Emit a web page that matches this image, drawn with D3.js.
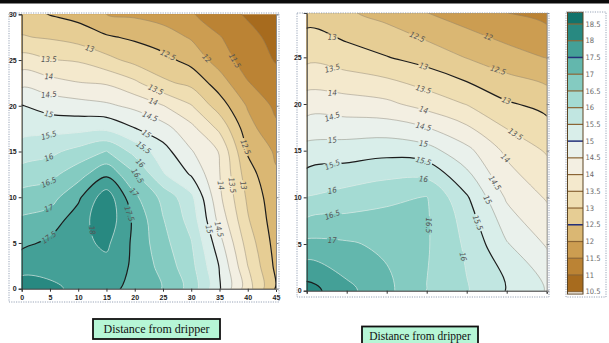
<!DOCTYPE html>
<html>
<head>
<meta charset="utf-8">
<script src="https://cdn.jsdelivr.net/npm/d3@7"></script>
<style>
  body { margin: 0; background: #fff; }
  svg { display: block; }
</style>
</head>
<body>
<svg id="chart" width="609" height="343"></svg>
<script>
// contour levels shared by both plots and the colour bar
const levels = [10.5, 11, 11.5, 12, 12.5, 13, 13.5, 14, 14.5, 15, 15.5, 16, 16.5, 17, 17.5, 18, 18.5];
const barMajor = [12.5, 15, 17.5];

// left plot: grid, rows from y = 0 (bottom) upwards
const leftX = [0, 5, 10, 15, 20, 25, 30, 35, 40, 45];
const leftY = [0, 2.5, 5, 7.5, 10, 12.5, 15, 17.5, 20, 22.5, 25, 27.5, 30];
const leftValues = [
  [18.25, 18.1, 17.89, 17.65, 17.35, 16.98, 16.31, 15.05, 13.72, 12.45],
  [17.81, 17.84, 17.85, 17.85, 17.4, 16.82, 16.16, 14.97, 13.5, 12.38],
  [17.38, 17.6, 17.85, 18.1, 17.38, 16.66, 16.03, 14.68, 13.28, 12.3],
  [17.08, 17.23, 17.76, 18.35, 17.38, 16.53, 15.81, 14.34, 13.05, 12.23],
  [16.68, 16.8, 17.4, 18.3, 17.1, 16.36, 15.62, 14.1, 12.91, 12.17],
  [16.22, 16.35, 16.8, 17.4, 16.55, 15.55, 14.95, 14.02, 12.72, 12.05],
  [15.74, 15.88, 16.17, 16.52, 15.84, 15.2, 14.54, 13.97, 12.45, 11.93],
  [15.33, 15.35, 15.36, 15.4, 15.02, 14.7, 14.15, 13.4, 12.2, 11.6],
  [15.02, 14.79, 14.7, 14.59, 14.38, 14.02, 13.53, 12.75, 11.95, 11.39],
  [14.37, 14.18, 14.02, 13.95, 13.6, 13.1, 12.87, 12.25, 11.53, 11.15],
  [13.72, 13.52, 13.45, 13.15, 12.85, 12.65, 12.33, 11.78, 11.25, 10.97],
  [13.03, 12.95, 12.8, 12.56, 12.42, 12.23, 11.95, 11.53, 11.15, 10.85],
  [12.75, 12.48, 12.33, 12.0, 11.92, 11.8, 11.55, 11.2, 10.94, 10.7]
];
const leftMajor = [12.5, 15, 17.5];
const leftXTicks = [0, 5, 10, 15, 20, 25, 30, 35, 40, 45];
const leftYTicks = [0, 5, 10, 15, 20, 25, 30];

// right plot
const rightX = [0, 5, 10, 15, 20, 25, 30];
const rightY = [0, 5, 10, 15, 20, 25, 30];
const rightValues = [
  [18.22, 17.64, 17.13, 16.49, 16.04, 15.48, 14.97],
  [17.13, 17.06, 16.9, 16.55, 15.91, 15.04, 14.45],
  [16.02, 16.21, 16.4, 16.52, 15.56, 14.43, 13.95],
  [15.19, 15.25, 15.34, 15.2, 14.64, 13.89, 13.45],
  [14.26, 14.21, 14.11, 13.8, 13.48, 13.06, 12.85],
  [13.37, 13.22, 13.02, 12.79, 12.48, 12.21, 11.98],
  [12.78, 12.55, 12.3, 11.97, 11.71, 11.47, 11.3]
];
const rightMajor = [13, 15.5, 18];
const rightXTicks = [0, 5, 10, 15, 20, 25, 30];
const rightYTicks = [0, 5, 10, 15, 20, 25];

const caption = 'Distance from dripper';

// where the inline contour labels sit: each guide picks up the listed levels where it crosses them
const leftGuides = [
  { from: [4.8, 3], to: [4.8, 27], levels: [13.5, 14, 14.5, 15, 15.5, 16, 16.5, 17, 17.5] },
  { from: [24.5, 24], to: [18.5, 6.5], levels: [13.5, 14, 14.5, 15, 15.5, 16, 16.5, 17, 17.5] },
  { from: [8, 26.5], to: [40, 24.8], levels: [13, 12.5, 12, 11.5] },
  { from: [33, 11.3], to: [42, 11.3], levels: [14, 13.5, 13] },
  { from: [31, 6.5], to: [38, 6.5], levels: [15, 14.5] },
  { from: [36, 15.5], to: [43, 15.5], levels: [12.5] },
  { from: [9, 6.4], to: [14.5, 6.4], levels: [18] }
];
const rightGuides = [
  { from: [3.2, 1], to: [3.2, 28.5], levels: [13, 13.5, 14, 14.5, 15, 15.5, 16, 16.5, 17] },
  { from: [14.6, 11], to: [14.6, 25.5], levels: [13, 13.5, 14, 14.5, 15, 15.5, 16] },
  { from: [10, 27.2], to: [28, 27.2], levels: [12.5, 12] },
  { from: [23.5, 25], to: [26.5, 15.5], levels: [12.5, 13, 13.5] },
  { from: [25.5, 15.5], to: [18.5, 1.5], levels: [14, 14.5, 15, 15.5, 16] },
  { from: [13.5, 7], to: [18, 7], levels: [16.5] }
];

const panels = [
  {
    id: 'left', xs: leftX, ys: leftY, values: leftValues, major: leftMajor,
    rect: { left: 21.7, right: 276, top: 14.3, bottom: 288.7 },
    xDomain: [0, 45], yDomain: [0, 30], xTicks: leftXTicks, yTicks: leftYTicks,
    xLabels: true, guides: leftGuides,
    frame: { x: 9, y: 13, w: 270, h: 289 }
  },
  {
    id: 'right', xs: rightX, ys: rightY, values: rightValues, major: rightMajor,
    rect: { left: 306.7, right: 546.7, top: 13, bottom: 290.7 },
    xDomain: [0, 30], yDomain: [0, 29.75], xTicks: rightXTicks, yTicks: rightYTicks,
    xLabels: false, guides: rightGuides,
    frame: { x: 297, y: 13, w: 252, h: 284 }
  }
];

const W = 609;
const H = 343;
const labelFont = '"Liberation Sans Narrow", "DejaVu Sans Condensed", sans-serif';
const axisFont = '"Liberation Sans", Arial, sans-serif';

const bandColor = (v) => d3.interpolateBrBG(0.5 + (v + 0.25 - 14.6) * 0.09);
const fmt = (v) => String(v);

const svg = d3.select('#chart');
const defs = svg.append('defs');

function intersect(p0, p1, a, b) {
  const r = [p1[0] - p0[0], p1[1] - p0[1]];
  const s = [b[0] - a[0], b[1] - a[1]];
  const den = r[0] * s[1] - r[1] * s[0];
  if (Math.abs(den) < 1e-9) return null;
  const qx = a[0] - p0[0];
  const qy = a[1] - p0[1];
  const t = (qx * s[1] - qy * s[0]) / den;
  const u = (qx * r[1] - qy * r[0]) / den;
  if (t < 0 || t > 1 || u < 0 || u > 1) return null;
  return { pt: [p0[0] + t * r[0], p0[1] + t * r[1]], u };
}

function findLabels(bands, guides, x, y) {
  const out = [];
  guides.forEach((g) => {
    const a = [x(g.from[0]), y(g.from[1])];
    const b = [x(g.to[0]), y(g.to[1])];
    g.levels.forEach((v) => {
      const band = bands.find((d) => Math.abs(d.value - v) < 1e-6);
      if (!band) return;
      let best = null;
      band.rings.forEach((ring) => {
        const n = ring.length;
        for (let i = 0; i < n; i++) {
          const hit = intersect(ring[i], ring[(i + 1) % n], a, b);
          if (hit && (!best || hit.u < best.u)) {
            const q0 = ring[(i - 1 + n) % n];
            const q1 = ring[(i + 2) % n];
            best = { ...hit, dir: [q1[0] - q0[0], q1[1] - q0[1]] };
          }
        }
      });
      if (!best) return;
      let angle = (Math.atan2(best.dir[1], best.dir[0]) * 180) / Math.PI;
      if (angle > 90) angle -= 180;
      if (angle < -90) angle += 180;
      const text = fmt(v);
      out.push({ x: best.pt[0], y: best.pt[1], angle, text, w: text.length * 3.8 + 3 });
    });
  });
  return out;
}

function styleAxis(g, color, textColor) {
  g.attr('font-family', axisFont).attr('font-size', 7).attr('font-weight', 'bold');
  g.select('.domain').attr('stroke', color);
  g.selectAll('.tick line').attr('stroke', color);
  g.selectAll('.tick text').attr('fill', textColor);
}

function drawPanel(p) {
  const x = d3.scaleLinear().domain(p.xDomain).range([p.rect.left, p.rect.right]);
  const y = d3.scaleLinear().domain(p.yDomain).range([p.rect.bottom, p.rect.top]);
  const nx = p.xs.length;
  const ny = p.ys.length;
  const stepX = p.xs[1] - p.xs[0];
  const stepY = p.ys[1] - p.ys[0];

  const contours = d3.contours().size([nx, ny]).thresholds(levels)(p.values.flat());

  // d3.contours puts sample i at i + 0.5 in its own grid units
  const toPx = ([gx, gy]) => [x(p.xs[0] + (gx - 0.5) * stepX), y(p.ys[0] + (gy - 0.5) * stepY)];
  const bands = contours.map((c) => ({
    value: c.value,
    rings: c.coordinates.flat().map((r) => r.slice(0, -1).map(toPx))
  }));
  const smooth = d3.line().curve(d3.curveCatmullRomClosed.alpha(0.5));
  const pathOf = (d) => d.rings.map((r) => smooth(r)).join('');

  defs.append('clipPath').attr('id', `clip-${p.id}`)
    .append('rect')
    .attr('x', p.rect.left).attr('y', p.rect.top)
    .attr('width', p.rect.right - p.rect.left).attr('height', p.rect.bottom - p.rect.top);

  const labels = findLabels(bands, p.guides, x, y);

  // cut the contour lines where a label sits
  const mask = defs.append('mask').attr('id', `mask-${p.id}`)
    .attr('maskUnits', 'userSpaceOnUse')
    .attr('x', 0).attr('y', 0).attr('width', W).attr('height', H);
  mask.append('rect').attr('width', W).attr('height', H).attr('fill', 'white');
  mask.selectAll('rect.gap')
    .data(labels)
    .enter()
    .append('rect')
    .attr('class', 'gap')
    .attr('x', (d) => -d.w / 2).attr('y', -3.5)
    .attr('width', (d) => d.w).attr('height', 7)
    .attr('transform', (d) => `translate(${d.x},${d.y}) rotate(${d.angle})`)
    .attr('fill', 'black');

  const plot = svg.append('g').attr('class', `plot plot-${p.id}`).attr('clip-path', `url(#clip-${p.id})`);

  plot.append('g').attr('class', 'bands')
    .selectAll('path')
    .data(bands)
    .enter()
    .append('path')
    .attr('d', pathOf)
    .attr('fill-rule', 'evenodd')
    .attr('fill', (d) => bandColor(d.value))
    .attr('stroke', (d) => bandColor(d.value))
    .attr('stroke-width', 0.3);

  const isMajor = (v) => p.major.some((m) => Math.abs(m - v) < 1e-6);
  plot.append('g').attr('class', 'lines').attr('mask', `url(#mask-${p.id})`)
    .selectAll('path')
    .data(bands.filter((d) => d.value > levels[0]))
    .enter()
    .append('path')
    .attr('d', pathOf)
    .attr('fill', 'none')
    .attr('stroke', (d) => {
      if (isMajor(d.value)) return '#1c1c1c';
      return d.value > 15 ? 'rgba(228,238,234,0.85)' : 'rgba(125,115,100,0.5)';
    })
    .attr('stroke-width', (d) => (isMajor(d.value) ? 1.2 : 0.8));

  plot.append('g').attr('class', 'labels')
    .selectAll('text')
    .data(labels)
    .enter()
    .append('text')
    .attr('transform', (d) => `translate(${d.x},${d.y}) rotate(${d.angle})`)
    .attr('text-anchor', 'middle')
    .attr('dy', '0.35em')
    .attr('font-family', labelFont)
    .attr('font-style', 'italic')
    .attr('font-size', 7.8)
    .attr('fill', '#555')
    .text((d) => d.text);

  // axes
  const left = svg.append('g').attr('transform', `translate(${p.rect.left},0)`)
    .call(d3.axisLeft(y).tickValues(p.yTicks).tickSize(3).tickPadding(2).tickFormat(d3.format('d')));
  styleAxis(left, '#333', '#222');

  const bottom = svg.append('g').attr('transform', `translate(0,${p.rect.bottom})`)
    .call(d3.axisBottom(x).tickValues(p.xTicks).tickSize(3).tickPadding(3)
      .tickFormat(p.xLabels ? d3.format('d') : ''));
  styleAxis(bottom, '#333', '#222');

  const right = svg.append('g').attr('transform', `translate(${p.rect.right},0)`)
    .call(d3.axisRight(y).tickValues(p.yTicks).tickSize(2.5).tickFormat(''));
  styleAxis(right, '#8a8a8a', '#222');

  svg.append('rect')
    .attr('x', p.frame.x).attr('y', p.frame.y)
    .attr('width', p.frame.w).attr('height', p.frame.h)
    .attr('fill', 'none')
    .attr('stroke', '#7f8ea6')
    .attr('stroke-width', 0.8)
    .attr('stroke-dasharray', '1.2,1.2');
}

function drawColorBar() {
  const yBar = d3.scaleLinear().domain([10.5, 18.5]).range([291.7, 24]);
  const lo = 10.43;
  const hi = 18.85;
  const bx = 567.5;
  const bw = 15.5;
  const g = svg.append('g').attr('class', 'colorbar');

  g.selectAll('rect.cell')
    .data(levels)
    .enter()
    .append('rect')
    .attr('class', 'cell')
    .attr('x', bx)
    .attr('y', (d) => yBar(Math.min(d + 0.5, hi)))
    .attr('width', bw)
    .attr('height', (d) => yBar(Math.max(d, lo)) - yBar(Math.min(d + 0.5, hi)))
    .attr('fill', (d) => bandColor(d));

  g.selectAll('line.sep')
    .data(levels)
    .enter()
    .append('line')
    .attr('class', 'sep')
    .attr('x1', bx).attr('x2', bx + bw)
    .attr('y1', yBar).attr('y2', yBar)
    .attr('stroke', (d) => (barMajor.includes(d) ? '#24307a' : '#8a6434'))
    .attr('stroke-width', (d) => (barMajor.includes(d) ? 1.5 : 1.2));

  g.append('rect')
    .attr('x', bx).attr('y', yBar(hi))
    .attr('width', bw).attr('height', yBar(lo) - yBar(hi))
    .attr('fill', 'none')
    .attr('stroke', '#5c4422')
    .attr('stroke-width', 1);

  g.selectAll('text')
    .data(levels)
    .enter()
    .append('text')
    .attr('x', bx + bw + 2.5)
    .attr('y', yBar)
    .attr('dy', '0.35em')
    .attr('font-family', labelFont)
    .attr('font-size', 7.5)
    .attr('fill', '#6a6a6a')
    .text(fmt);

  svg.append('rect')
    .attr('x', 566).attr('y', 12).attr('width', 40).attr('height', 285)
    .attr('fill', 'none')
    .attr('stroke', '#7f8ea6')
    .attr('stroke-width', 0.8)
    .attr('stroke-dasharray', '1.2,1.2');
}

function drawCaption(box) {
  const g = svg.append('g').attr('class', 'caption');
  g.append('rect')
    .attr('x', box.x).attr('y', box.y).attr('width', box.w).attr('height', box.h)
    .attr('fill', '#b6f6d6')
    .attr('stroke', '#111')
    .attr('stroke-width', 1.8);
  g.append('text')
    .attr('x', box.x + box.w / 2)
    .attr('y', box.y + box.h / 2)
    .attr('dy', '0.35em')
    .attr('text-anchor', 'middle')
    .attr('font-family', '"Liberation Serif", "Times New Roman", serif')
    .attr('font-size', box.size)
    .attr('fill', '#111')
    .text(caption);
}

svg.append('rect').attr('x', 0).attr('y', 0).attr('width', W).attr('height', 3.5).attr('fill', '#0b0b0b');
panels.forEach(drawPanel);
drawColorBar();
drawCaption({ x: 93, y: 319, w: 127, h: 20, size: 12 });
drawCaption({ x: 362, y: 326.5, w: 116, h: 18, size: 11.5 });
</script>
</body>
</html>
